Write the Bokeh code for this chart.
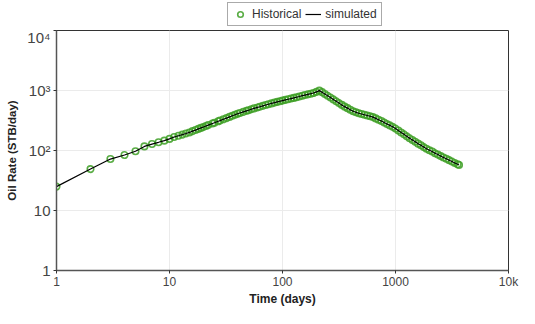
from bokeh.plotting import figure
from bokeh.layouts import column
from bokeh.models import Range1d, FixedTicker, Legend, LegendItem
from bokeh.embed import file_html
from bokeh.resources import INLINE

# ---- data ----
time_days = [1, 2, 3, 4, 5, 6, 7, 8, 9, 10, 11, 12, 13, 14, 15, 16, 17, 18, 19, 20,
             21, 22, 24, 25, 27, 28, 30, 32, 34, 36, 38, 40, 42, 45, 48, 50, 53, 56, 60, 63,
             67, 71, 75, 80, 85, 90, 95, 100, 106, 112, 119, 126, 133, 141, 150, 158, 168, 178,
             188, 200, 212, 224, 237, 251, 266, 282, 299, 316, 335, 355, 376, 398, 422, 447,
             473, 501, 531, 562, 596, 631, 668, 708, 750, 794, 841, 891, 944, 1000, 1059, 1122,
             1189, 1259, 1334, 1413, 1496, 1585, 1679, 1778, 1884, 1995, 2113, 2239, 2371, 2512,
             2661, 2818, 2985, 3162, 3350, 3548, 3650]
historical_rate = [25, 49, 72, 84, 97, 117, 128, 137, 146, 156, 168, 176, 184, 192, 200, 210, 219, 229, 238, 247,
                   256, 265, 282, 290, 307, 315, 331, 347, 363, 379, 394, 409, 422, 440, 458, 469, 487, 503, 522, 536,
                   555, 573, 590, 610, 628, 646, 663, 679, 697, 714, 734, 753, 773, 794, 819, 839, 863, 885,
                   908, 948, 995, 938, 875, 817, 763, 711, 661, 617, 575, 538, 508, 479, 452, 433,
                   417, 406, 394, 383, 372, 360, 343, 326, 310, 293, 277, 262, 248, 232, 216, 200,
                   186, 172, 160, 150, 140, 130, 122, 114, 107, 101, 96, 90, 85.5, 80.7,
                   76.6, 72.7, 69, 65.5, 62, 58.9, 57.4]
simulated_rate = [25, 49, 72, 84, 97, 117, 128, 137, 146, 156, 168, 176, 184, 192, 200, 210, 219, 229, 238, 247,
                  256, 265, 282, 290, 307, 315, 331, 347, 363, 379, 394, 409, 422, 440, 458, 469, 487, 503, 522, 536,
                  555, 573, 590, 610, 628, 646, 663, 679, 697, 714, 734, 753, 773, 794, 819, 839, 863, 885,
                  908, 948, 995, 938, 875, 817, 763, 711, 661, 617, 575, 538, 508, 479, 452, 433,
                  417, 406, 394, 383, 372, 360, 343, 326, 310, 293, 277, 262, 248, 232, 216, 200,
                  186, 172, 160, 150, 140, 130, 122, 114, 107, 101, 96, 90, 85.5, 80.7,
                  76.6, 72.7, 69, 65.5, 62, 58.9, 57.4]
series_names = ["Historical", "simulated"]

x_ticks = [1, 10, 100, 1000, 10000]
x_tick_labels = ["1", "10", "100", "1000", "10k"]
y_ticks = [1, 10, 100, 1000, 10000]
y_tick_labels = ["1", "10", "10\u00b2", "10\u00b3", "10\u2074"]

FONT = "Liberation Sans"
W = 519
LEG_H = 28
MAIN_H = 280

HIST_STYLE = dict(marker="circle", size=6.5, fill_color=None,
                  line_color="#3d9f24", line_alpha=0.85, line_width=1.6)
SIM_STYLE = dict(line_color="black", line_width=1.2)

# ---- main chart ----
p = figure(width=W, height=MAIN_H, x_axis_type="log", y_axis_type="log",
           x_range=Range1d(1, 10000), y_range=Range1d(1, 10000),
           output_backend="svg", toolbar_location=None,
           min_border_left=56, min_border_right=11, min_border_top=2, min_border_bottom=33)

p.background_fill_color = "white"
p.border_fill_color = "white"
p.outline_line_color = "#333333"
p.outline_line_width = 1

p.scatter(time_days, historical_rate, **HIST_STYLE)
p.line(time_days, simulated_rate, **SIM_STYLE)

p.xaxis.ticker = FixedTicker(ticks=x_ticks, minor_ticks=[])
p.yaxis.ticker = FixedTicker(ticks=y_ticks, minor_ticks=[])
p.xaxis.major_label_overrides = dict(zip(x_ticks, x_tick_labels))
p.yaxis.major_label_overrides = dict(zip(y_ticks, y_tick_labels))

for ax in (p.xaxis[0], p.yaxis[0]):
    ax.axis_line_color = "#555555"
    ax.axis_line_width = 1.5
    ax.major_tick_line_color = "#333333"
    ax.major_tick_in = 0
    ax.major_tick_out = 3
    ax.minor_tick_line_color = None
    ax.major_label_text_font = FONT
    ax.major_label_text_color = "#444444"
    ax.axis_label_text_font = FONT
    ax.axis_label_text_font_style = "bold"
    ax.axis_label_text_color = "#222222"

p.xaxis.axis_label = "Time (days)"
p.yaxis.axis_label = "Oil Rate (STB/day)"
p.xaxis.major_label_text_font_size = "12px"
p.yaxis.major_label_text_font_size = "15px"
p.xaxis.axis_label_text_font_size = "12px"
p.yaxis.axis_label_text_font_size = "11.5px"
p.xaxis.major_label_standoff = 1
p.yaxis.major_label_standoff = 3
p.xaxis.axis_label_standoff = 0
p.yaxis.axis_label_standoff = 6

p.xgrid.grid_line_color = "#ebebeb"
p.ygrid.grid_line_color = "#ebebeb"

# ---- legend strip above the chart (its sample glyphs use the first data point,
#      which falls outside this strip's own range so only the legend shows) ----
lf = figure(width=W, height=LEG_H, x_range=Range1d(-1, -0.5), y_range=Range1d(-1, -0.5),
            output_backend="svg", toolbar_location=None,
            x_axis_location=None, y_axis_location=None, min_border=0)
lf.outline_line_color = None
lf.xgrid.visible = False
lf.ygrid.visible = False
lh = lf.scatter(time_days[:1], historical_rate[:1], **HIST_STYLE)
ls = lf.line(time_days[:2], simulated_rate[:2], **SIM_STYLE)

legend = Legend(items=[LegendItem(label=series_names[0], renderers=[lh]),
                       LegendItem(label=series_names[1], renderers=[ls])],
                orientation="horizontal", location=(171, 2),
                label_text_font=FONT, label_text_font_size="12px", label_text_color="#333333",
                border_line_color="#555555", border_line_width=1,
                background_fill_color="white", background_fill_alpha=1,
                padding=4, margin=0, spacing=4, glyph_width=16, glyph_height=14,
                label_standoff=4, label_height=14)
lf.add_layout(legend, "center")

layout = column(lf, p, spacing=0)
open("out.html", "w").write(file_html(layout, INLINE))
